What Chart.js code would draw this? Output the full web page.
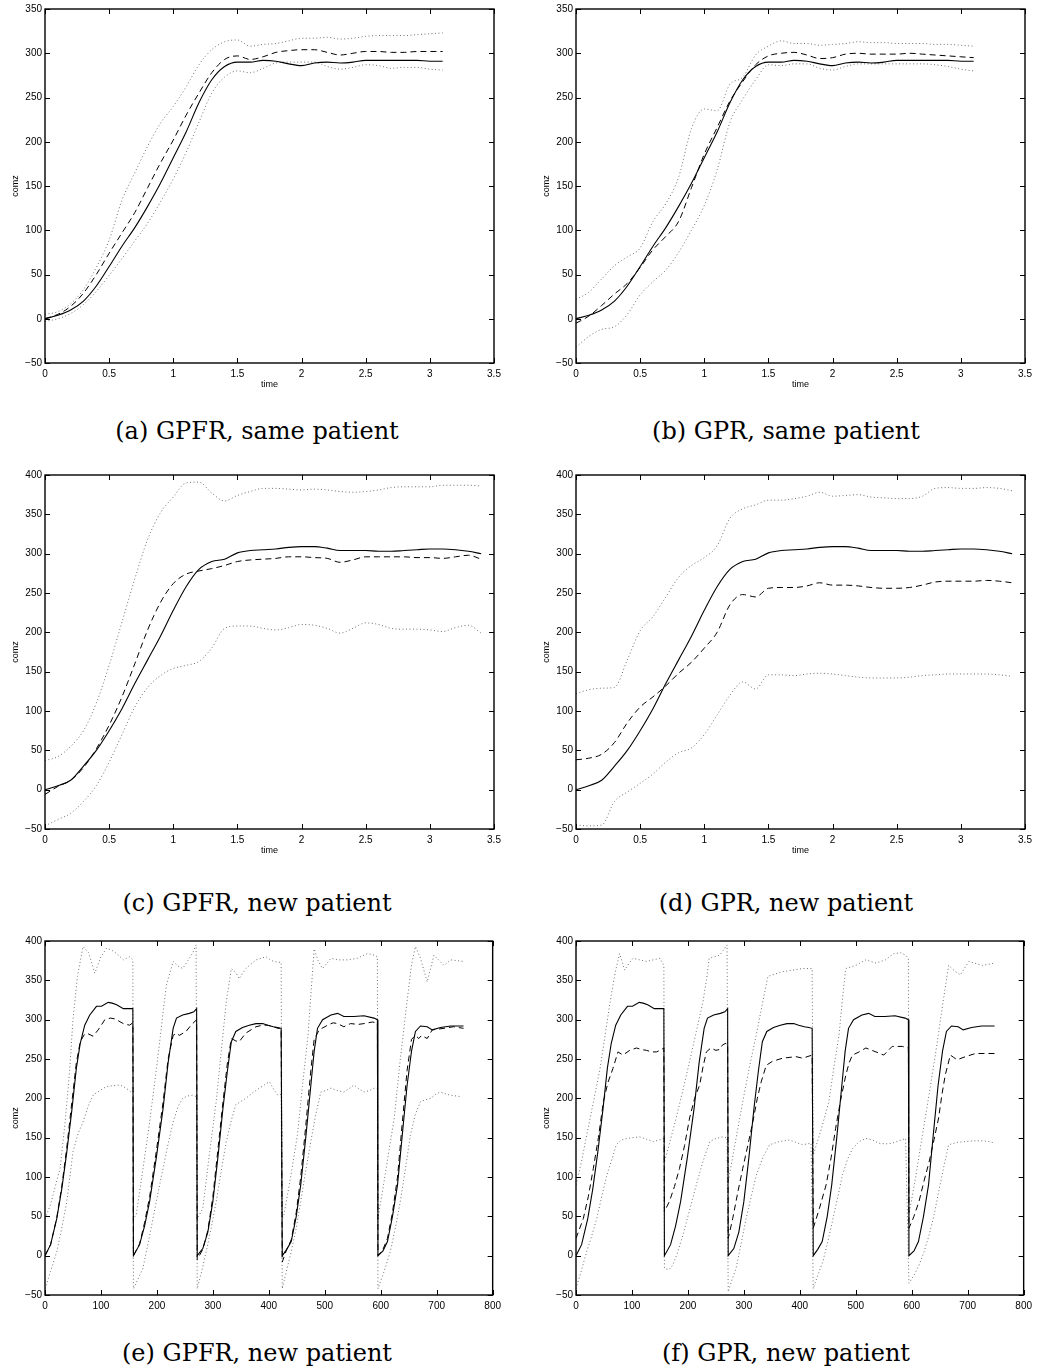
<!DOCTYPE html>
<html>
<head>
<meta charset="utf-8">
<script src="https://cdn.jsdelivr.net/npm/chart.js@4.4.1/dist/chart.umd.min.js"></script>
<style>
body{margin:0;background:#fff;width:1037px;height:1369px;position:relative;overflow:hidden}
canvas{position:absolute;display:block}
.cap{position:absolute;font-family:"DejaVu Serif",serif;font-size:24px;color:#000;white-space:nowrap;transform:translate(-50%,-50%)}
</style>
</head>
<body>
<canvas id="ca" width="506" height="400" style="left:0;top:0"></canvas>
<canvas id="cb" width="506" height="400" style="left:531px;top:0"></canvas>
<canvas id="cc" width="506" height="400" style="left:0;top:466px"></canvas>
<canvas id="cd" width="506" height="400" style="left:531px;top:466px"></canvas>
<canvas id="ce" width="506" height="400" style="left:0;top:932px"></canvas>
<canvas id="cf" width="506" height="400" style="left:531px;top:932px"></canvas>
<div class="cap" style="left:257px;top:431px">(a) GPFR, same patient</div>
<div class="cap" style="left:786px;top:431px">(b) GPR, same patient</div>
<div class="cap" style="left:257px;top:903px">(c) GPFR, new patient</div>
<div class="cap" style="left:786px;top:903px">(d) GPR, new patient</div>
<div class="cap" style="left:257px;top:1353px">(e) GPFR, new patient</div>
<div class="cap" style="left:786px;top:1353px">(f) GPR, new patient</div>
<script>
// same patient, time grid
const tSame=[0,0.1,0.2,0.3,0.4,0.5,0.6,0.7,0.8,0.9,1.0,1.1,1.2,1.3,1.4,1.5,1.6,1.7,1.8,1.9,2.0,2.1,2.2,2.3,2.4,2.5,2.6,2.7,2.8,2.9,3.0,3.1];
const truthSame=[0,4,10,20,37,59,82,103,127,153,182,211,244,270,285,290,290,292,291,288,286,289,290,289,290,292,292,292,292,292,291,291];
const gpfrSameMean=[0,5,14,29,50,74,97,120,148,176,202,230,255,278,293,297,293,296,301,303,304,304,301,298,300,302,302,301,301,302,302,302];
const gpfrSameUp=[5,8,17,33,58,89,134,165,195,221,240,262,287,304,313,315,308,310,311,314,317,317,318,316,317,319,320,320,320,321,322,323];
const gpfrSameLo=[-3,0,6,16,31,49,68,88,108,132,158,188,222,255,273,280,278,283,289,290,290,290,285,282,284,287,286,283,284,284,282,281];
const gprSameMean=[-5,3,15,28,40,58,78,93,110,148,186,216,246,268,287,297,300,301,298,294,295,299,300,299,299,299,300,299,298,297,296,295];
const gprSameUp=[22,30,45,60,70,80,110,130,160,215,237,235,265,273,298,308,314,311,311,309,310,311,313,312,312,311,311,311,310,310,309,308];
const gprSameLo=[-32,-20,-12,-9,5,27,42,55,75,100,128,168,222,248,270,287,286,288,288,283,281,285,288,288,288,288,288,288,287,285,282,280];

// new patient, time grid
const tNew=[0,0.1,0.2,0.3,0.4,0.5,0.6,0.7,0.8,0.9,1.0,1.1,1.2,1.3,1.4,1.5,1.6,1.7,1.8,1.9,2.0,2.1,2.2,2.3,2.4,2.5,2.6,2.7,2.8,2.9,3.0,3.1,3.2,3.3,3.4];
const truthNew=[0,5,12,30,50,75,103,135,165,195,228,258,280,290,293,301,304,305,306,308,309,309,307,304,304,304,303,303,304,305,306,306,305,303,300];
const gpfrNewMean=[-6,4,12,28,52,82,118,160,203,238,262,274,278,281,285,290,292,293,294,296,296,295,294,289,292,296,296,296,296,295,295,294,296,298,293];
const gpfrNewUp=[37,42,55,75,110,158,213,268,318,352,372,390,391,377,367,374,379,383,383,382,381,382,381,379,378,379,381,384,385,385,385,387,387,387,386];
const gpfrNewLo=[-46,-38,-30,-15,5,35,70,105,130,145,154,158,163,180,205,208,208,205,203,206,210,209,205,199,205,212,210,205,204,204,203,201,206,209,199];
const gprNewMean=[38,40,45,60,85,105,118,132,148,162,180,200,235,248,245,256,257,257,259,263,260,260,259,257,256,256,257,260,264,265,265,265,266,265,263];
const gprNewUp=[122,127,129,130,165,202,220,245,270,285,295,310,345,357,362,368,368,370,373,378,373,374,375,372,371,370,370,373,383,384,383,383,384,383,380];
const gprNewLo=[-45,-46,-45,-15,-3,8,20,35,47,53,70,95,120,137,128,146,146,145,147,148,147,145,143,142,142,142,143,145,146,147,147,147,147,146,144];

// five walks, sample index
const truthWalkX=[0,10,21,30,39,48,56,63,71,80,92,101,113,120,128,140,157,
  158,169,178,187,199,211,220,229,235,246,258,266,271,
  272,282,291,300,309,318,326,333,341,353,365,377,389,398,408,416,422,
  424,432,440,449,457,466,475,481,487,496,511,523,534,552,570,588,594,
  595,604,612,621,630,638,647,655,662,671,683,692,707,725,748];
const truthWalkY=[0,14,47,85,132,185,238,270,293,306,317,317,322,321,319,314,314,
  0,14,38,69,125,187,245,289,302,306,308,310,314,
  0,9,30,69,125,187,235,272,285,290,293,295,295,293,291,290,289,
  0,8,18,50,90,150,216,260,289,300,306,308,304,304,305,302,300,
  0,6,18,50,90,150,216,260,285,292,291,287,290,292,292];

const gpfrWalkMeanX=[0,10,21,30,39,48,56,63,71,77,86,95,107,117,125,140,151,157,
  158,169,178,187,199,211,220,229,235,240,252,261,271,
  272,282,291,300,309,318,326,333,341,347,359,377,389,398,408,416,422,
  424,432,440,449,457,466,475,481,490,505,515,523,534,546,560,570,585,594,
  595,604,612,621,630,638,647,655,662,668,673,683,692,713,730,748];
const gpfrWalkMeanY=[0,14,48,88,138,195,245,272,282,282,279,287,300,302,301,295,293,296,
  0,15,42,75,133,195,250,280,283,280,285,293,300,
  -5,8,32,75,135,195,245,276,273,272,283,291,293,293,291,289,289,
  -8,8,20,55,100,165,235,275,287,293,296,295,291,295,294,295,297,296,
  0,8,22,55,100,165,235,275,280,276,280,276,287,289,291,289];

const gpfrWalkUpX=[0,10,19,27,36,44,50,58,68,78,89,100,110,120,128,140,151,157,
  158,163,175,187,196,205,211,217,229,238,246,258,264,270,
  272,282,294,306,315,324,333,341,347,359,377,395,405,415,422,
  424,427,439,451,460,470,476,481,488,496,511,525,540,558,576,588,594,
  595,605,615,624,635,647,655,662,671,683,695,713,725,748];
const gpfrWalkUpY=[47,65,90,111,170,235,300,355,393,385,359,380,391,388,384,376,380,376,
  47,52,110,170,220,272,310,344,374,368,365,378,385,395,
  47,60,130,196,260,323,365,360,352,365,376,380,375,373,373,
  47,52,100,153,215,280,340,390,375,365,378,376,376,378,384,382,380,
  47,90,135,174,250,323,370,393,378,348,382,369,376,374];

const gpfrWalkLoX=[0,10,21,30,39,50,59,68,77,86,98,110,122,134,145,157,
  158,166,175,184,193,202,211,220,229,238,246,255,264,271,
  272,280,288,297,306,315,324,333,341,350,359,371,383,392,401,410,416,422,
  424,432,440,449,457,466,475,484,493,502,511,522,534,543,552,561,570,580,588,594,
  595,606,617,626,635,644,653,662,671,680,689,698,706,715,724,735,745];
const gpfrWalkLoY=[-42,-20,5,35,69,132,155,170,190,204,210,215,216,217,213,206,
  -42,-30,-16,15,47,80,111,142,170,190,200,203,204,202,
  -42,-20,5,35,69,108,145,172,192,196,200,207,213,217,221,210,204,205,
  -42,-18,5,35,69,108,145,180,208,210,213,210,208,212,217,212,208,210,213,212,
  -42,-20,5,35,69,110,153,180,196,198,200,205,208,206,204,203,202];

const gprWalkMeanX=[0,13,22,31,40,49,57,66,75,84,96,108,117,126,135,144,150,157,
  158,167,176,185,194,203,212,221,227,233,241,250,256,262,268,271,
  272,280,289,298,307,316,324,331,340,351,369,393,405,422,
  424,435,447,456,464,473,482,488,494,506,518,536,550,565,583,594,
  595,604,613,622,631,640,648,654,660,669,675,681,696,714,749];
const gprWalkMeanY=[22,47,75,111,150,196,220,238,259,255,261,264,262,261,259,259,261,264,
  56,69,88,111,140,175,200,217,240,259,264,261,262,268,270,268,
  22,47,80,111,140,170,200,221,242,247,251,253,251,255,
  35,60,90,125,162,198,229,245,255,259,264,259,255,266,266,264,
  35,50,69,95,119,148,175,205,230,255,252,249,253,257,257];

const gprWalkUpX=[0,10,19,31,43,52,61,70,78,87,95,102,114,126,138,150,157,
  158,168,179,191,203,215,227,233,238,248,257,263,270,
  272,285,298,310,322,333,343,356,369,387,405,422,
  424,438,452,461,470,476,482,491,500,518,536,553,568,580,589,594,
  595,607,619,631,643,655,666,678,687,702,726,749];
const gprWalkUpY=[90,120,153,195,238,280,323,360,384,363,372,378,376,374,376,378,369,
  119,145,175,210,247,285,323,350,378,380,382,388,395,
  94,145,196,240,280,320,355,358,361,363,365,365,
  128,160,196,240,280,325,365,367,369,376,372,376,384,385,382,378,
  52,100,153,205,259,318,369,361,357,374,369,372];

const gprWalkLoX=[0,10,19,28,37,46,55,64,72,81,90,102,114,126,138,148,157,
  158,166,173,182,191,203,215,227,239,250,262,270,
  272,279,286,295,304,313,322,334,346,363,381,393,405,420,
  424,432,441,450,458,467,476,485,494,506,518,530,541,553,565,577,589,
  595,604,613,622,631,640,648,657,666,681,696,711,726,738,749];
const gprWalkLoY=[-42,-18,5,25,47,75,102,122,141,147,149,150,151,148,145,147,149,
  -16,-18,-12,5,26,58,90,120,145,149,151,150,
  -46,-30,-16,15,47,75,102,125,141,145,147,144,141,143,
  -42,-25,-8,18,43,72,102,122,136,145,149,147,143,142,143,146,149,
  -35,-25,-12,5,26,52,81,112,141,144,145,146,146,145,143];

const tickFont={family:"'Liberation Sans', Arial, sans-serif",size:10};
const titleFont={family:"'Liberation Sans', Arial, sans-serif",size:9};

function pts(xs,ys){
  return xs.map((x,i)=>({x:x,y:ys[i]}));
}

// box round the plot, ticks pointing inward on all four sides
const frame={
  id:'frame',
  afterDraw(chart){
    const ctx=chart.ctx, a=chart.chartArea, sx=chart.scales.x, sy=chart.scales.y;
    ctx.save();
    ctx.strokeStyle='#000';
    ctx.lineWidth=1;
    ctx.beginPath();
    sx.ticks.forEach(t=>{
      const px=Math.round(sx.getPixelForValue(t.value))+0.5;
      ctx.moveTo(px,a.bottom);ctx.lineTo(px,a.bottom-5);
      ctx.moveTo(px,a.top);ctx.lineTo(px,a.top+5);
    });
    sy.ticks.forEach(t=>{
      const py=Math.round(sy.getPixelForValue(t.value))+0.5;
      ctx.moveTo(a.left,py);ctx.lineTo(a.left+5,py);
      ctx.moveTo(a.right,py);ctx.lineTo(a.right-5,py);
    });
    ctx.stroke();
    ctx.lineWidth=1.4;
    ctx.strokeRect(a.left,a.top,a.right-a.left,a.bottom-a.top);
    ctx.restore();
  }
};

function makeChart(id,series,o){
  const looks=[
    {borderColor:'#000',borderWidth:1.1},
    {borderColor:'#000',borderWidth:1,borderDash:[6,4]},
    {borderColor:'#6f6f6f',borderWidth:1,borderDash:[1,2.5]},
    {borderColor:'#6f6f6f',borderWidth:1,borderDash:[1,2.5]}
  ];
  const datasets=series.map((s,i)=>Object.assign({
    data:pts(s[0],s[1]),
    pointRadius:0,
    fill:false,
    tension:0,
    cubicInterpolationMode:o.smooth?'monotone':'default'
  },looks[i]));
  return new Chart(document.getElementById(id),{
    type:'line',
    data:{datasets:datasets},
    plugins:[frame],
    options:{
      responsive:false,
      animation:false,
      events:[],
      layout:{padding:{top:9,right:12,left:0,bottom:0}},
      plugins:{legend:{display:false},tooltip:{enabled:false}},
      scales:{
        x:{
          type:'linear',min:0,max:o.xMax,
          grid:{display:false,drawTicks:false},
          border:{display:false},
          ticks:{stepSize:o.xStep,font:tickFont,color:'#000',padding:5,maxRotation:0,autoSkip:false,
            callback:v=>String(v)},
          title:{display:o.time,text:'time',font:titleFont,color:'#000',padding:{top:0,bottom:10}},
          afterFit(s){s.height=37;}
        },
        y:{
          min:-50,max:o.yMax,
          grid:{display:false,drawTicks:false},
          border:{display:false},
          ticks:{stepSize:50,font:tickFont,color:'#000',padding:3,
            callback:v=>String(v).replace('-','\u2212')},
          title:{display:true,text:'comz',font:titleFont,color:'#000',padding:{top:10,bottom:0}},
          afterFit(s){s.width=45;}
        }
      }
    }
  });
}

makeChart('ca',[[tSame,truthSame],[tSame,gpfrSameMean],[tSame,gpfrSameUp],[tSame,gpfrSameLo]],
  {xMax:3.5,xStep:0.5,yMax:350,time:true,smooth:true});
makeChart('cb',[[tSame,truthSame],[tSame,gprSameMean],[tSame,gprSameUp],[tSame,gprSameLo]],
  {xMax:3.5,xStep:0.5,yMax:350,time:true,smooth:true});
makeChart('cc',[[tNew,truthNew],[tNew,gpfrNewMean],[tNew,gpfrNewUp],[tNew,gpfrNewLo]],
  {xMax:3.5,xStep:0.5,yMax:400,time:true,smooth:true});
makeChart('cd',[[tNew,truthNew],[tNew,gprNewMean],[tNew,gprNewUp],[tNew,gprNewLo]],
  {xMax:3.5,xStep:0.5,yMax:400,time:true,smooth:true});
makeChart('ce',[[truthWalkX,truthWalkY],[gpfrWalkMeanX,gpfrWalkMeanY],[gpfrWalkUpX,gpfrWalkUpY],[gpfrWalkLoX,gpfrWalkLoY]],
  {xMax:800,xStep:100,yMax:400,time:false,smooth:false});
makeChart('cf',[[truthWalkX,truthWalkY],[gprWalkMeanX,gprWalkMeanY],[gprWalkUpX,gprWalkUpY],[gprWalkLoX,gprWalkLoY]],
  {xMax:800,xStep:100,yMax:400,time:false,smooth:false});
</script>
</body>
</html>
